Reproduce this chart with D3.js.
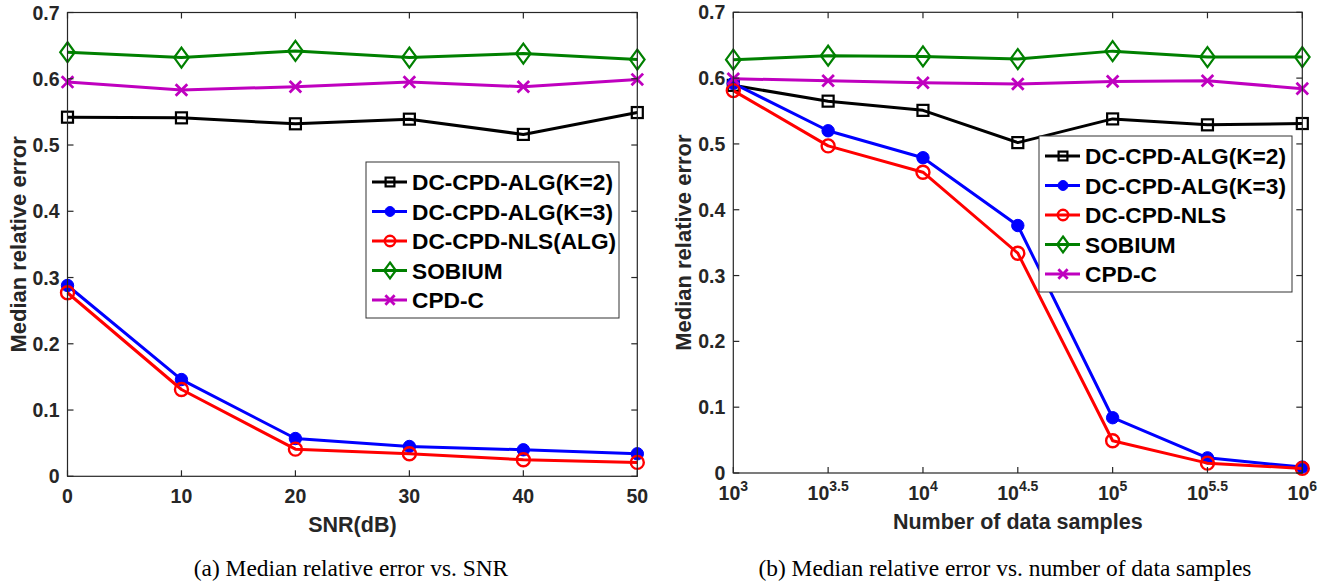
<!DOCTYPE html>
<html>
<head>
<meta charset="utf-8">
<script src="https://cdn.jsdelivr.net/npm/d3@7"></script>
<style>
  body { margin: 0; background: #fff; }
  svg { display: block; }
</style>
</head>
<body>
<svg id="chart" width="1337" height="584"></svg>
<script>
// ---- data ----
const snr = [0, 10, 20, 30, 40, 50];
const snrK2     = [0.542, 0.541, 0.532, 0.539, 0.516, 0.549];
const snrK3     = [0.288, 0.146, 0.057, 0.045, 0.040, 0.034];
const snrNLS    = [0.277, 0.131, 0.041, 0.034, 0.025, 0.021];
const snrSOBIUM = [0.640, 0.632, 0.642, 0.632, 0.638, 0.629];
const snrCPDC   = [0.595, 0.583, 0.588, 0.595, 0.588, 0.599];

const samples = [1000, 3162, 10000, 31623, 100000, 316228, 1000000];
const sampleExps = ["3", "3.5", "4", "4.5", "5", "5.5", "6"];
const smpK2     = [0.589, 0.565, 0.551, 0.502, 0.538, 0.529, 0.531];
const smpK3     = [0.592, 0.520, 0.479, 0.376, 0.084, 0.023, 0.009];
const smpNLS    = [0.581, 0.497, 0.457, 0.334, 0.049, 0.015, 0.007];
const smpSOBIUM = [0.628, 0.634, 0.633, 0.629, 0.641, 0.632, 0.632];
const smpCPDC   = [0.599, 0.596, 0.593, 0.591, 0.595, 0.596, 0.584];

const yTicks = [0, 0.1, 0.2, 0.3, 0.4, 0.5, 0.6, 0.7];
const legendA = ["DC-CPD-ALG(K=2)", "DC-CPD-ALG(K=3)", "DC-CPD-NLS(ALG)", "SOBIUM", "CPD-C"];
const legendB = ["DC-CPD-ALG(K=2)", "DC-CPD-ALG(K=3)", "DC-CPD-NLS", "SOBIUM", "CPD-C"];

const styles = [
  { color: "#000000", marker: "square" },
  { color: "#0000ff", marker: "dot" },
  { color: "#ff0000", marker: "circle" },
  { color: "#008000", marker: "diamond" },
  { color: "#bf00bf", marker: "cross" }
];

const svg = d3.select("#chart");
const axisColor = "#262626";
const font = "Arial, 'Liberation Sans', Helvetica, sans-serif";

function drawMarker(g, type, color, x, y, s) {
  s = s || 1;
  if (type === "square") {
    g.append("rect").attr("x", x - 5.5 * s).attr("y", y - 5.5 * s)
      .attr("width", 11 * s).attr("height", 11 * s)
      .attr("fill", "none").attr("stroke", color).attr("stroke-width", 2.2);
  } else if (type === "dot") {
    g.append("circle").attr("cx", x).attr("cy", y).attr("r", 6.2 * s)
      .attr("fill", color).attr("stroke", color).attr("stroke-width", 1);
  } else if (type === "circle") {
    g.append("circle").attr("cx", x).attr("cy", y).attr("r", 6.5 * s)
      .attr("fill", "none").attr("stroke", color).attr("stroke-width", 2.4);
  } else if (type === "diamond") {
    g.append("path")
      .attr("d", `M${x},${y - 10 * s}L${x + 7.3 * s},${y}L${x},${y + 10 * s}L${x - 7.3 * s},${y}Z`)
      .attr("fill", "none").attr("stroke", color).attr("stroke-width", 2.2);
  } else if (type === "cross") {
    const d = 5.8 * s;
    g.append("path")
      .attr("d", `M${x - d},${y - d}L${x + d},${y + d}M${x - d},${y + d}L${x + d},${y - d}`)
      .attr("stroke", color).attr("stroke-width", 2.8);
  }
}

function panel(opt) {
  const { left, right, top, bottom } = opt;
  const x = opt.x.range([left, right]);
  const y = d3.scaleLinear().domain([0, 0.7]).range([bottom, top]);
  const g = svg.append("g");

  // data lines and markers
  opt.series.forEach((vals, i) => {
    const st = styles[i];
    const pts = opt.xs.map((xv, j) => [x(xv), y(vals[j])]);
    g.append("path")
      .attr("d", d3.line()(pts))
      .attr("fill", "none")
      .attr("stroke", st.color)
      .attr("stroke-width", 3)
      .attr("stroke-linejoin", "round");
    const mg = g.append("g");
    pts.forEach(p => drawMarker(mg, st.marker, st.color, p[0], p[1]));
  });

  // box with inner ticks on all sides
  const ax = svg.append("g").attr("stroke", axisColor).attr("stroke-width", 1.2).attr("fill", "none");
  ax.append("rect").attr("x", left).attr("y", top).attr("width", right - left).attr("height", bottom - top);
  const tl = 6;
  opt.xTicks.forEach(t => {
    const px = x(t);
    ax.append("line").attr("x1", px).attr("x2", px).attr("y1", bottom).attr("y2", bottom - tl);
    ax.append("line").attr("x1", px).attr("x2", px).attr("y1", top).attr("y2", top + tl);
  });
  yTicks.forEach(t => {
    const py = y(t);
    ax.append("line").attr("x1", left).attr("x2", left + tl).attr("y1", py).attr("y2", py);
    ax.append("line").attr("x1", right).attr("x2", right - tl).attr("y1", py).attr("y2", py);
  });

  // tick labels
  const tg = svg.append("g").attr("font-family", font).attr("font-weight", "bold")
    .attr("font-size", 19.5).attr("fill", axisColor);
  yTicks.forEach(t => {
    tg.append("text").attr("x", left - 8).attr("y", y(t)).attr("dy", "0.36em")
      .attr("text-anchor", "end").text(d3.format("~g")(t));
  });
  opt.xTicks.forEach((t, i) => {
    const tx = tg.append("text").attr("x", x(t)).attr("y", bottom + 27).attr("text-anchor", "middle");
    if (opt.exps) {
      tx.append("tspan").text("10");
      tx.append("tspan").attr("font-size", 14).attr("dy", -9).text(opt.exps[i]);
    } else {
      tx.text(t);
    }
  });

  // axis labels
  const lg = svg.append("g").attr("font-family", font).attr("font-weight", "bold")
    .attr("fill", axisColor);
  lg.append("text").attr("x", (left + right) / 2).attr("y", bottom + 56)
    .attr("font-size", 21.5).attr("text-anchor", "middle").text(opt.xLabel);
  lg.append("text").attr("transform", `translate(${opt.yLabelX},${(top + bottom) / 2}) rotate(-90)`)
    .attr("font-size", 22).attr("text-anchor", "middle").text("Median relative error");

  // caption
  svg.append("text").attr("x", opt.captionX).attr("y", 576)
    .attr("text-anchor", "middle").attr("font-family", "'Liberation Serif', 'Times New Roman', serif")
    .attr("font-size", 23.4).attr("fill", "#000").text(opt.caption);

  // legend
  const L = opt.legend;
  const leg = svg.append("g");
  leg.append("rect").attr("x", L.x).attr("y", L.y).attr("width", 253).attr("height", 156)
    .attr("fill", "#fff").attr("stroke", "#333").attr("stroke-width", 1);
  L.names.forEach((name, i) => {
    const st = styles[i];
    const cy = L.y + 20 + i * 29.5;
    leg.append("line").attr("x1", L.x + 6).attr("x2", L.x + 41).attr("y1", cy).attr("y2", cy)
      .attr("stroke", st.color).attr("stroke-width", 3);
    drawMarker(leg, st.marker, st.color, L.x + 24, cy, 0.8);
    leg.append("text").attr("x", L.x + 46).attr("y", cy).attr("dy", "0.36em")
      .attr("font-family", font).attr("font-weight", "bold").attr("font-size", 22.7)
      .attr("fill", "#000").text(name);
  });
}

panel({
  left: 67.5, right: 637.3, top: 12.5, bottom: 476.3,
  x: d3.scaleLinear().domain([0, 50]),
  xs: snr,
  xTicks: snr,
  series: [snrK2, snrK3, snrNLS, snrSOBIUM, snrCPDC],
  xLabel: "SNR(dB)",
  yLabelX: 26,
  caption: "(a) Median relative error vs. SNR",
  captionX: 351,
  legend: { x: 366, y: 162, names: legendA }
});

panel({
  left: 733.3, right: 1302.3, top: 12.3, bottom: 473,
  x: d3.scaleLog().domain([1000, 1000000]),
  xs: samples,
  xTicks: samples,
  exps: sampleExps,
  series: [smpK2, smpK3, smpNLS, smpSOBIUM, smpCPDC],
  xLabel: "Number of data samples",
  yLabelX: 691,
  caption: "(b) Median relative error vs. number of data samples",
  captionX: 1005,
  legend: { x: 1039, y: 136, names: legendB }
});
</script>
</body>
</html>
